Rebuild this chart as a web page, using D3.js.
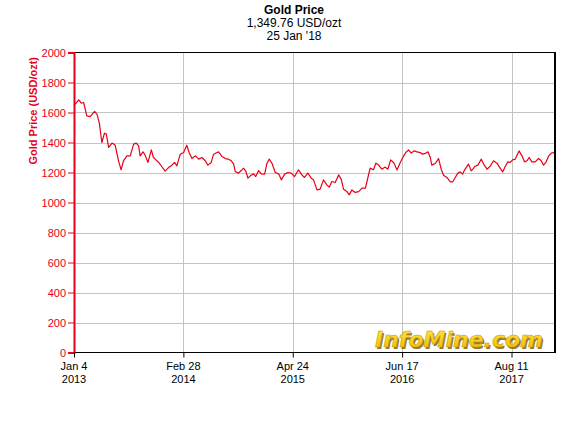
<!DOCTYPE html>
<html>
<head>
<meta charset="utf-8">
<script src="https://cdn.jsdelivr.net/npm/d3@7"></script>
<style>
  html, body { margin: 0; padding: 0; background: #ffffff; }
  svg { display: block; }
</style>
</head>
<body>
<svg id="chart" width="584" height="429"></svg>
<script>
const titleLines = ["Gold Price", "1,349.76 USD/ozt", "25 Jan '18"];
const yLabel = "Gold Price (USD/ozt)";
const yTicks = [0, 200, 400, 600, 800, 1000, 1200, 1400, 1600, 1800, 2000];
const xTickDates = ["2013-01-04", "2014-02-28", "2015-04-24", "2016-06-17", "2017-08-11"];
const xTickLabels = [["Jan 4", "2013"], ["Feb 28", "2014"], ["Apr 24", "2015"], ["Jun 17", "2016"], ["Aug 11", "2017"]];
const xDomain = ["2013-01-04", "2018-01-25"];

const dates = [
  "2013-01-04","2013-01-09","2013-01-22","2013-02-01","2013-02-10","2013-02-22","2013-03-07","2013-03-24","2013-04-02",
  "2013-04-11","2013-04-21","2013-05-01","2013-05-08","2013-05-17","2013-05-30","2013-06-11","2013-06-24","2013-07-04",
  "2013-07-13","2013-07-26","2013-08-08","2013-08-21","2013-08-31","2013-09-09","2013-09-15","2013-09-26","2013-10-04",
  "2013-10-15","2013-10-28","2013-11-05","2013-11-12","2013-11-25","2013-12-07","2013-12-20","2014-01-02","2014-01-15",
  "2014-01-25","2014-02-03","2014-02-16","2014-03-01","2014-03-13","2014-03-22","2014-04-02","2014-04-15","2014-04-28",
  "2014-05-10","2014-05-23","2014-06-02","2014-06-15","2014-06-24","2014-07-13","2014-07-26","2014-08-08","2014-08-20",
  "2014-08-31","2014-09-09","2014-09-15","2014-09-28","2014-10-08","2014-10-17","2014-10-26","2014-11-03","2014-11-12",
  "2014-11-25","2014-12-03","2014-12-14","2014-12-24","2015-01-06","2015-01-15","2015-01-24","2015-02-03","2015-02-16",
  "2015-03-01","2015-03-11","2015-03-24","2015-04-05","2015-04-18","2015-05-01","2015-05-16","2015-05-29","2015-06-08",
  "2015-06-21","2015-07-04","2015-07-13","2015-07-17","2015-07-26","2015-08-07","2015-08-20","2015-09-02","2015-09-11",
  "2015-09-21","2015-10-04","2015-10-17","2015-10-27","2015-11-05","2015-11-18","2015-11-27","2015-12-07","2015-12-20",
  "2016-01-02","2016-01-15","2016-01-28","2016-02-03","2016-02-15","2016-02-28","2016-03-08","2016-03-18","2016-03-31",
  "2016-04-13","2016-04-23","2016-05-04","2016-05-15","2016-05-19","2016-05-28","2016-06-10","2016-06-23","2016-07-01",
  "2016-07-12","2016-07-22","2016-08-01","2016-08-13","2016-08-26","2016-09-03","2016-09-14","2016-09-24","2016-10-03",
  "2016-10-09","2016-10-22","2016-11-04","2016-11-14","2016-11-23","2016-12-06","2016-12-19","2016-12-28","2017-01-07",
  "2017-01-17","2017-01-26","2017-02-04","2017-02-12","2017-02-27","2017-03-09","2017-03-18","2017-03-22","2017-04-04",
  "2017-04-17","2017-04-26","2017-05-09","2017-05-22","2017-06-03","2017-06-16","2017-06-29","2017-07-08","2017-07-18",
  "2017-07-28","2017-08-06","2017-08-15","2017-08-25","2017-09-09","2017-09-20","2017-09-30","2017-10-09","2017-10-18",
  "2017-10-28","2017-11-10","2017-11-23","2017-12-03","2017-12-12","2017-12-21","2018-01-01","2018-01-11","2018-01-20",
  "2018-01-25"
];
const prices = [
  1650,1656,1684,1662,1667,1578,1573,1607,1589,
  1533,1400,1462,1456,1367,1396,1382,1278,1218,
  1278,1311,1311,1389,1396,1378,1311,1338,1316,
  1267,1351,1300,1289,1267,1240,1209,1233,1249,
  1267,1244,1322,1333,1382,1333,1293,1311,1289,
  1300,1278,1249,1267,1322,1338,1307,1293,1289,
  1278,1256,1207,1196,1213,1229,1207,1162,1178,
  1191,1173,1213,1191,1189,1262,1289,1262,1200,
  1191,1151,1189,1200,1196,1173,1218,1184,1167,
  1196,1162,1151,1129,1084,1089,1151,1118,1102,
  1140,1133,1184,1156,1089,1073,1051,1084,1067,
  1073,1096,1096,1140,1229,1218,1262,1251,1222,
  1236,1222,1284,1267,1256,1216,1267,1311,1333,
  1351,1329,1344,1338,1333,1322,1327,1338,1300,
  1249,1260,1293,1222,1182,1167,1138,1138,1167,
  1196,1204,1189,1218,1256,1211,1227,1240,1249,
  1289,1256,1222,1244,1278,1262,1227,1204,1240,
  1271,1267,1284,1289,1344,1311,1271,1278,1300,
  1271,1271,1293,1278,1249,1267,1311,1329,1333,
  1340
];

const parse = d3.timeParse("%Y-%m-%d");
const data = dates.map((d, i) => ({ date: parse(d), value: prices[i] }));

const svg = d3.select("#chart");
const pL = 74, pR = 555, pT = 52.5, pB = 352.5;
const font = "'Liberation Sans', Arial, sans-serif";
const red = "#e60018";

const x = d3.scaleTime().domain(xDomain.map(parse)).range([pL, pR]);
const y = d3.scaleLinear().domain([0, 2000]).range([pB, pT]);

// Title
svg.append("g").selectAll("text").data(titleLines).join("text")
  .attr("x", 294).attr("y", (d, i) => 14 + i * 13)
  .attr("text-anchor", "middle")
  .attr("font-family", font)
  .attr("font-size", 12)
  .attr("font-weight", (d, i) => i === 0 ? "bold" : "normal")
  .attr("fill", "#000")
  .text(d => d);

// Gridlines
svg.append("g").selectAll("line").data(yTicks.filter(t => t > 0 && t < 2000)).join("line")
  .attr("x1", pL).attr("x2", pR)
  .attr("y1", d => Math.round(y(d)) + 0.5).attr("y2", d => Math.round(y(d)) + 0.5)
  .attr("stroke", "#c4c4c4").attr("stroke-width", 1);
svg.append("g").selectAll("line").data(xTickDates.slice(1)).join("line")
  .attr("x1", d => Math.round(x(parse(d))) + 0.5).attr("x2", d => Math.round(x(parse(d))) + 0.5)
  .attr("y1", pT).attr("y2", pB)
  .attr("stroke", "#c4c4c4").attr("stroke-width", 1);

// Watermark
const defs = svg.append("defs");
const grad = defs.append("linearGradient").attr("id", "gold").attr("x1", 0).attr("y1", 0).attr("x2", 0).attr("y2", 1);
grad.append("stop").attr("offset", "0%").attr("stop-color", "#ffe84a");
grad.append("stop").attr("offset", "100%").attr("stop-color", "#f2b800");
const wm = svg.append("g").attr("transform", "translate(543,347)");
wm.append("text")
  .attr("x", 1.5).attr("y", 1.5)
  .attr("text-anchor", "end")
  .attr("font-family", "'DejaVu Sans', sans-serif")
  .attr("font-size", 22).attr("font-weight", "bold").attr("font-style", "italic")
  .attr("fill", "#7a5a00").attr("opacity", 0.8)
  .text("InfoMine.com");
wm.append("text")
  .attr("text-anchor", "end")
  .attr("font-family", "'DejaVu Sans', sans-serif")
  .attr("font-size", 22).attr("font-weight", "bold").attr("font-style", "italic")
  .attr("fill", "url(#gold)").attr("stroke", "#c89800").attr("stroke-width", 0.5)
  .text("InfoMine.com");

// Line
svg.append("path").datum(data)
  .attr("fill", "none").attr("stroke", red).attr("stroke-width", 1.2)
  .attr("stroke-linejoin", "round")
  .attr("d", d3.line().x(d => x(d.date)).y(d => y(d.value)));

// Frame (top, right, bottom black)
svg.append("line").attr("x1", pL).attr("x2", pR).attr("y1", pT).attr("y2", pT)
  .attr("stroke", "#000").attr("stroke-width", 1);
svg.append("line").attr("x1", pL).attr("x2", pR + 1).attr("y1", pB).attr("y2", pB)
  .attr("stroke", "#000").attr("stroke-width", 1.2);
svg.append("line").attr("x1", pR).attr("x2", pR).attr("y1", pT - 0.5).attr("y2", pB)
  .attr("stroke", "#000").attr("stroke-width", 2);

// Y axis
const yAxis = d3.axisLeft(y).tickValues(yTicks).tickSize(6).tickPadding(2).tickFormat(d3.format("d"));
const gy = svg.append("g").attr("transform", `translate(${pL},0)`).call(yAxis);
gy.select(".domain").attr("stroke", red).attr("stroke-width", 2);
gy.selectAll(".tick line").attr("stroke", red);
gy.selectAll(".tick text").attr("fill", red).attr("font-family", font).attr("font-size", 11);

svg.append("text")
  .attr("transform", "translate(37,57) rotate(-90)")
  .attr("text-anchor", "end")
  .attr("font-family", font).attr("font-size", 11).attr("font-weight", "bold")
  .attr("fill", red)
  .text(yLabel);

// X axis
const xAxis = d3.axisBottom(x).tickValues(xTickDates.map(parse)).tickSize(5).tickFormat("");
const gx = svg.append("g").attr("transform", `translate(0,${pB})`).call(xAxis);
gx.select(".domain").remove();
gx.selectAll(".tick line").attr("stroke", "#000");
const lbl = svg.append("g").selectAll("g").data(xTickDates).join("g")
  .attr("transform", d => `translate(${x(parse(d))},0)`);
lbl.append("text").attr("y", 370).attr("text-anchor", "middle")
  .attr("font-family", font).attr("font-size", 11).attr("fill", "#000")
  .text((d, i) => xTickLabels[i][0]);
lbl.append("text").attr("y", 383).attr("text-anchor", "middle")
  .attr("font-family", font).attr("font-size", 11).attr("fill", "#000")
  .text((d, i) => xTickLabels[i][1]);
</script>
</body>
</html>
